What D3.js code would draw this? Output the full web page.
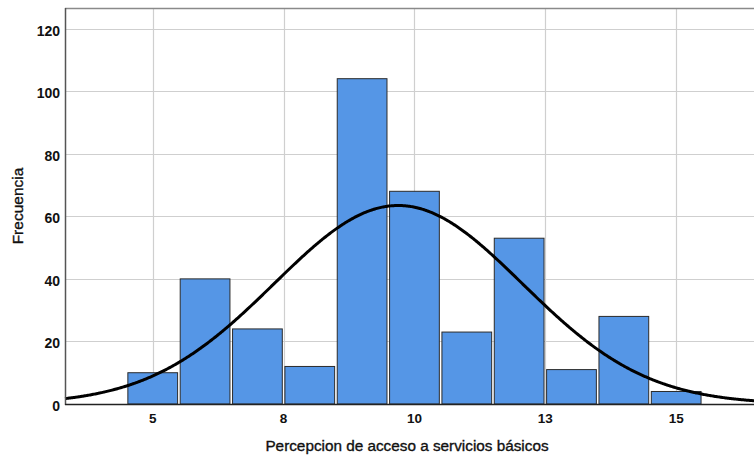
<!DOCTYPE html>
<html><head><meta charset="utf-8">
<script src="https://cdn.jsdelivr.net/npm/d3@7"></script>
<style>body{margin:0;background:#fff}svg{display:block}</style>
</head><body>
<svg id="c" width="754" height="457"></svg>
<script>
const binCenters = [5, 6, 7, 8, 9, 10, 11, 12, 13, 14, 15];
const frequencies = [10, 40, 24, 12, 104, 68, 23, 53, 11, 28, 4];
const xTickValues = [5, 7.5, 10, 12.5, 15];
const xTickLabels = ["5", "8", "10", "13", "15"];
const yTickValues = [0, 20, 40, 60, 80, 100, 120];
const curveMean = 9.69;
const curveSD = 2.37;
const curveN = 377;
const binWidth = 1;

const svg = d3.select("#c");
const L = 65, R = 754.7, T = 8, B = 404;
const x = d3.scaleLinear().domain([3.324, 16.5]).range([L, R]);
const y = d3.scaleLinear().domain([0, 126.6]).range([B, T]);

// gridlines
svg.append("g").selectAll("line").data(yTickValues.slice(1)).join("line")
  .attr("x1", L).attr("x2", 754).attr("y1", d => Math.round(y(d)) + 0.5).attr("y2", d => Math.round(y(d)) + 0.5)
  .attr("stroke", "#cfcfcf").attr("stroke-width", 1.2);
svg.append("g").selectAll("line").data(xTickValues).join("line")
  .attr("x1", d => Math.round(x(d)) + 0.5).attr("x2", d => Math.round(x(d)) + 0.5).attr("y1", T).attr("y2", B)
  .attr("stroke", "#cfcfcf").attr("stroke-width", 1.2);

// top border
svg.append("line").attr("x1", L).attr("x2", 754).attr("y1", T + 0.5).attr("y2", T + 0.5)
  .attr("stroke", "#8a8a8a").attr("stroke-width", 1.5);

// bars
svg.append("g").selectAll("rect").data(binCenters).join("rect")
  .attr("x", d => x(d - binWidth / 2) + 1.3)
  .attr("width", d => x(d + binWidth / 2) - x(d - binWidth / 2) - 2.6)
  .attr("y", (d, i) => y(frequencies[i]))
  .attr("height", (d, i) => B - y(frequencies[i]))
  .attr("fill", "#5596e6").attr("stroke", "#2b2b2b").attr("stroke-width", 1);

// normal curve
const pts = d3.range(3.324, 16.51, 0.02).map(v => [v, curveN * binWidth / (curveSD * Math.sqrt(2 * Math.PI)) * Math.exp(-0.5 * Math.pow((v - curveMean) / curveSD, 2))]);
svg.append("path").datum(pts)
  .attr("d", d3.line().x(d => x(d[0])).y(d => y(d[1])).curve(d3.curveBasis))
  .attr("fill", "none").attr("stroke", "#000").attr("stroke-width", 3);

// axes lines
svg.append("line").attr("x1", L + 0.5).attr("x2", L + 0.5).attr("y1", T).attr("y2", B + 1)
  .attr("stroke", "#555").attr("stroke-width", 1.5);
svg.append("line").attr("x1", L).attr("x2", 754).attr("y1", B + 0.5).attr("y2", B + 0.5)
  .attr("stroke", "#222").attr("stroke-width", 1.5);

// y tick labels
const font = "'Liberation Sans', Arial, sans-serif";
svg.append("g").selectAll("text").data(yTickValues).join("text")
  .attr("x", 60).attr("y", d => y(d) + 7)
  .attr("text-anchor", "end").attr("font-family", font).attr("font-size", 14).attr("font-weight", "bold")
  .attr("fill", "#111").text(d => d);
// x tick labels
svg.append("g").selectAll("text").data(xTickValues).join("text")
  .attr("x", d => x(d)).attr("y", 423)
  .attr("text-anchor", "middle").attr("font-family", font).attr("font-size", 13.5).attr("font-weight", "bold")
  .attr("fill", "#111").text((d, i) => xTickLabels[i]);

// axis titles
svg.append("text").attr("x", 407).attr("y", 451).attr("text-anchor", "middle")
  .attr("font-family", font).attr("font-size", 15.3).attr("fill", "#111")
  .attr("stroke", "#111").attr("stroke-width", 0.35).text("Percepcion de acceso a servicios básicos");
svg.append("text").attr("transform", "translate(23,206) rotate(-90)").attr("text-anchor", "middle")
  .attr("font-family", font).attr("font-size", 15.5).attr("fill", "#111")
  .attr("stroke", "#111").attr("stroke-width", 0.35).text("Frecuencia");
</script>
</body></html>
